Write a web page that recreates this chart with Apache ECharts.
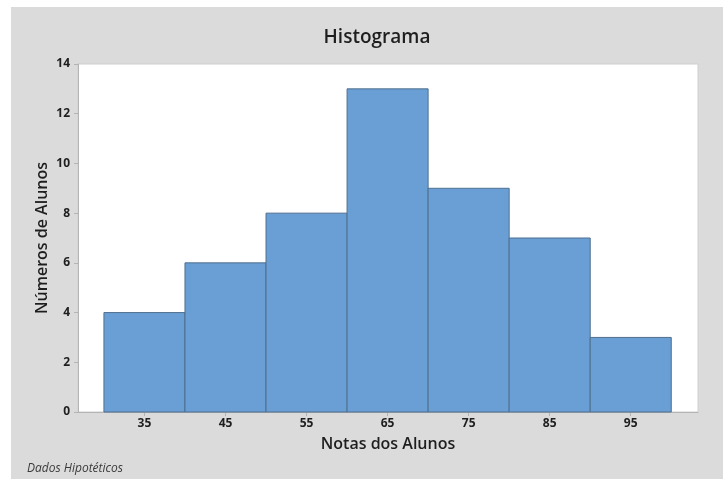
<!DOCTYPE html>
<html>
<head>
<meta charset="utf-8">
<script src="https://cdn.jsdelivr.net/npm/echarts@6/dist/echarts.min.js"></script>
<style>
html, body { margin: 0; padding: 0; background: #fff; }
#histChart { width: 723px; height: 479px; }
</style>
</head>
<body>
<div id="histChart"></div>
<script>
var axisColor = '#b4b4b4';
var textColor = '#1e1e1e';
var fontName = '"Open Sans", "Noto Sans", sans-serif';

// dados
var binCenters = [35, 45, 55, 65, 75, 85, 95];
var counts = [4, 6, 8, 13, 9, 7, 3];
var binWidth = 10;
var xTicks = [35, 45, 55, 65, 75, 85, 95];
var yTicks = [0, 2, 4, 6, 8, 10, 12, 14];

var histChart = function () {
    var myChart = echarts.init(document.getElementById('histChart'));
    var data = binCenters.map(function (c, i) {
        return [c, counts[i]];
    });
    var option = {
        backgroundColor: '#dcdbdb',
        animation: false,
        graphic: [
            { type: 'rect', left: 0, top: 0, shape: { width: 11, height: 479 }, style: { fill: '#fff' } },
            { type: 'rect', left: 0, top: 0, shape: { width: 723, height: 7 }, style: { fill: '#fff' } },
            {
                type: 'text', left: 27, top: 463,
                style: { text: 'Dados Hipotéticos', font: 'italic 12px ' + fontName, fill: '#3a3a3a' }
            }
        ],
        title: {
            text: 'Histograma',
            left: 372,
            top: 23,
            textAlign: 'center',
            textStyle: { color: textColor, fontSize: 19, fontWeight: 600, fontFamily: fontName }
        },
        grid: {
            show: true,
            left: 78,
            right: 25,
            top: 64,
            bottom: 67,
            backgroundColor: '#fff',
            borderColor: '#cfcfcf',
            borderWidth: 1
        },
        xAxis: {
            type: 'value',
            min: 26.8,
            max: 103.3,
            name: 'Notas dos Alunos',
            nameLocation: 'middle',
            nameGap: 24,
            nameMoveOverlap: false,
            nameTextStyle: { color: textColor, fontSize: 16, fontWeight: 600, fontFamily: fontName },
            axisLine: { show: true, lineStyle: { color: axisColor } },
            axisTick: { show: true, length: 4, customValues: xTicks, lineStyle: { color: axisColor } },
            axisLabel: {
                customValues: xTicks,
                color: textColor,
                fontSize: 12,
                fontWeight: 'bold',
                fontFamily: fontName,
                margin: 6
            },
            splitLine: { show: false }
        },
        yAxis: {
            type: 'value',
            min: 0,
            max: 14,
            name: 'Números de Alunos',
            nameLocation: 'middle',
            nameGap: 28,
            nameMoveOverlap: false,
            nameTextStyle: { color: textColor, fontSize: 16, fontWeight: 600, fontFamily: fontName },
            axisLine: { show: true, lineStyle: { color: axisColor } },
            axisTick: { show: true, length: 4, customValues: yTicks, lineStyle: { color: axisColor } },
            axisLabel: {
                customValues: yTicks,
                color: textColor,
                fontSize: 12,
                fontWeight: 'bold',
                fontFamily: fontName,
                margin: 8
            },
            splitLine: { show: false }
        },
        series: [
            {
                type: 'custom',
                data: data,
                renderItem: function (params, api) {
                    var c = api.value(0);
                    var h = api.value(1);
                    var p0 = api.coord([c - binWidth / 2, h]);
                    var p1 = api.coord([c + binWidth / 2, 0]);
                    return {
                        type: 'rect',
                        shape: { x: p0[0], y: p0[1], width: p1[0] - p0[0], height: p1[1] - p0[1] },
                        style: { fill: '#6a9fd5', stroke: '#4f6f8f', lineWidth: 1 }
                    };
                }
            }
        ]
    };
    myChart.setOption(option);
};

histChart();
</script>
</body>
</html>
